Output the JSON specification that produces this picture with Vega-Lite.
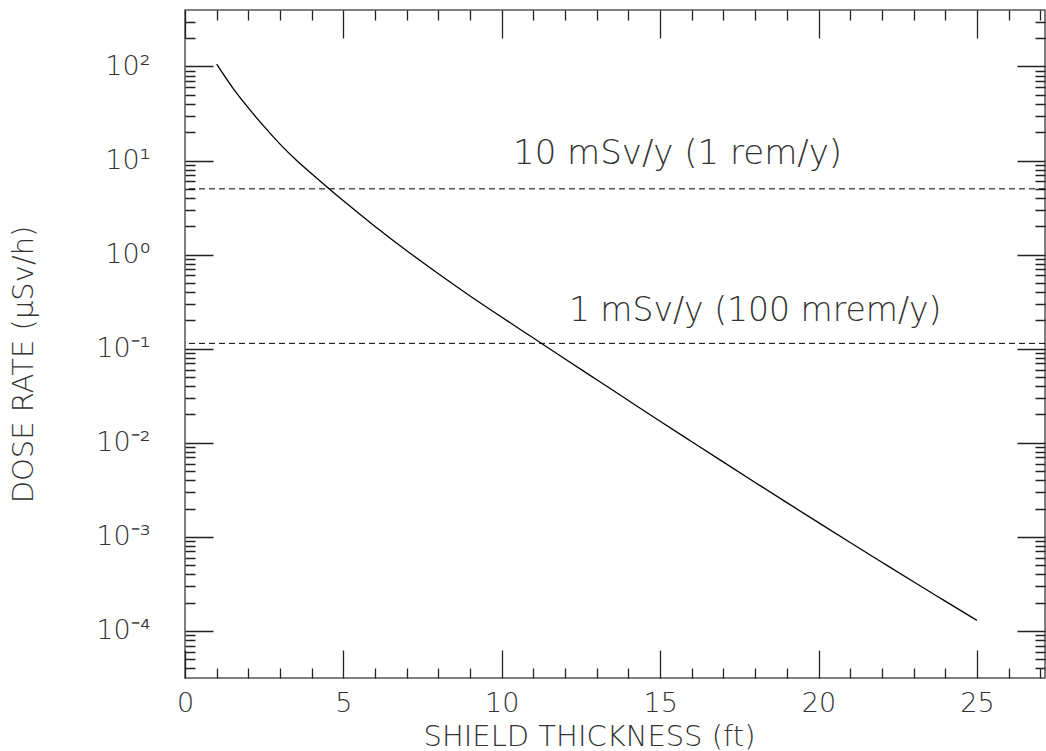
{
  "$schema": "https://vega.github.io/schema/vega-lite/v6.json",
  "width": 860,
  "height": 668,
  "autosize": {"type": "none"},
  "padding": {"left": 185, "top": 10, "right": 1, "bottom": 73},
  "background": "white",
  "config": {
    "view": {"stroke": "#555555", "strokeWidth": 1.5},
    "axis": {
      "zindex": 1,
      "grid": true,
      "gridColor": "#222222",
      "gridWidth": 1.3,
      "gridOpacity": 1,
      "domain": false,
      "ticks": false,
      "labelFont": "DejaVu Sans",
      "labelFontWeight": 200,
      "labelColor": "#333333",
      "labelFontSize": 27,
      "titleFont": "DejaVu Sans",
      "titleFontWeight": 200,
      "titleColor": "#333333",
      "titleFontSize": 29,
      "labelOverlap": false,
      "labelFlush": false
    }
  },
  "datasets": {
    "curve": [
      {"x": 1, "y": 106}, {"x": 1.5, "y": 59.7}, {"x": 2, "y": 36.3}, {"x": 2.5, "y": 22.9},
      {"x": 3, "y": 14.96}, {"x": 3.5, "y": 10.2}, {"x": 4, "y": 7.24}, {"x": 5, "y": 3.73},
      {"x": 6, "y": 1.995}, {"x": 7, "y": 1.102}, {"x": 8, "y": 0.6266}, {"x": 9, "y": 0.3639},
      {"x": 10, "y": 0.2163}, {"x": 11, "y": 0.1297}, {"x": 12, "y": 0.0778}, {"x": 13, "y": 0.04677},
      {"x": 14, "y": 0.02812}, {"x": 15, "y": 0.01694}, {"x": 16, "y": 0.01026}, {"x": 17, "y": 0.006223},
      {"x": 18, "y": 0.003784}, {"x": 19, "y": 0.002312}, {"x": 20, "y": 0.001416}, {"x": 21, "y": 0.000871},
      {"x": 22, "y": 0.000538}, {"x": 23, "y": 0.000333}, {"x": 24, "y": 0.0002075}, {"x": 25, "y": 0.0001294}
    ],
    "limits": [
      {"limit": "10 mSv/y", "y": 5},
      {"limit": "1 mSv/y", "y": 0.114}
    ],
    "notes": [
      {"id": 1, "x": 15.55, "y": 9.2, "size": 34, "text": "10 mSv/y (1 rem/y)"},
      {"id": 2, "x": 18.0, "y": 0.199, "size": 33, "text": "1 mSv/y (100 mrem/y)"}
    ]
  },
  "layer": [
    {
      "data": {"name": "curve"},
      "mark": {"type": "line", "color": "#000000", "strokeWidth": 1.3, "interpolate": "monotone"},
      "encoding": {
        "x": {
          "field": "x", "type": "quantitative",
          "scale": {"domain": [0, 27.15], "nice": false, "zero": false},
          "axis": {
            "orient": "bottom",
            "values": [0,1,2,3,4,5,6,7,8,9,10,11,12,13,14,15,16,17,18,19,20,21,22,23,24,25,26,27],
            "gridDash": {"condition": {"test": "datum.value % 5 == 0", "value": [28, 612, 28, 0]}, "value": [10, 648, 10, 0]},
            "labelExpr": "datum.value % 5 == 0 ? datum.label : ''",
            "labelPadding": 12,
            "title": "SHIELD THICKNESS (ft)",
            "titleX": 404, "titleY": 67, "titleBaseline": "alphabetic", "titleAnchor": null
          }
        },
        "y": {
          "field": "y", "type": "quantitative",
          "scale": {"type": "log", "domain": [0.000031623, 398.1], "nice": false},
          "axis": {
            "orient": "left",
            "values": [0.00004,0.00005,0.00006,0.00007,0.00008,0.00009,
                       0.0001,0.0002,0.0003,0.0004,0.0005,0.0006,0.0007,0.0008,0.0009,
                       0.001,0.002,0.003,0.004,0.005,0.006,0.007,0.008,0.009,
                       0.01,0.02,0.03,0.04,0.05,0.06,0.07,0.08,0.09,
                       0.1,0.2,0.3,0.4,0.5,0.6,0.7,0.8,0.9,
                       1,2,3,4,5,6,7,8,9,
                       10,20,30,40,50,60,70,80,90,
                       100,200,300],
            "gridDash": {"condition": {"test": "abs(log(datum.value)/LN10 - round(log(datum.value)/LN10)) < 0.001", "value": [28, 804, 28, 0]}, "value": [10, 840, 10, 0]},
            "labelPadding": 35, "labelBaseline": "middle",
            "labelExpr": "datum.value == 100 ? '10²' : datum.value == 10 ? '10¹' : datum.value == 1 ? '10⁰' : datum.value == 0.1 ? '10⁻¹' : datum.value == 0.01 ? '10⁻²' : datum.value == 0.001 ? '10⁻³' : datum.value == 0.0001 ? '10⁻⁴' : ''",
            "title": "DOSE RATE (μSv/h)",
            "titleX": -162, "titleY": 354, "titleBaseline": "middle", "titleAngle": -90, "titleAnchor": null
          }
        }
      }
    },
    {
      "data": {"name": "limits"},
      "mark": {"type": "rule", "color": "#000000", "strokeWidth": 1, "strokeDash": [6, 4]},
      "encoding": {
        "y": {
          "field": "y", "type": "quantitative",
          "scale": {"type": "log", "domain": [0.000031623, 398.1], "nice": false},
          "axis": null
        }
      }
    },
    {
      "data": {"name": "notes"},
      "mark": {"type": "text", "font": "DejaVu Sans", "fontWeight": 200, "color": "#333333", "align": "center", "baseline": "alphabetic"},
      "encoding": {
        "x": {
          "field": "x", "type": "quantitative",
          "scale": {"domain": [0, 27.15], "nice": false, "zero": false},
          "axis": null
        },
        "y": {
          "field": "y", "type": "quantitative",
          "scale": {"type": "log", "domain": [0.000031623, 398.1], "nice": false},
          "axis": null
        },
        "size": {"field": "size", "type": "quantitative", "scale": null, "legend": null},
        "text": {"field": "text"}
      }
    }
  ],
  "resolve": {"axis": {"x": "independent", "y": "independent"}}
}
